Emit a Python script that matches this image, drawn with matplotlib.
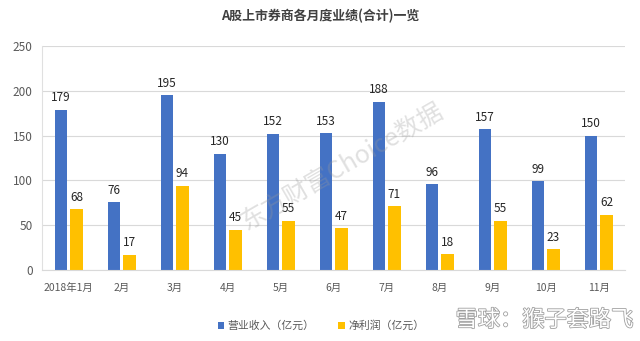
import matplotlib
matplotlib.use("Agg")
import matplotlib.pyplot as plt
import matplotlib.patheffects as pe
import numpy as np

plt.rcParams['font.family'] = ['Noto Sans CJK SC', 'DejaVu Sans']

months = ["2018年1月", "2月", "3月", "4月", "5月", "6月", "7月", "8月", "9月", "10月", "11月"]
revenue = [179, 76, 195, 130, 152, 153, 188, 96, 157, 99, 150]
profit = [68, 17, 94, 45, 55, 47, 71, 18, 55, 23, 62]

blue = "#4472C4"
yellow = "#FFC000"

fig = plt.figure(figsize=(6.4, 3.41), dpi=100)
ax = fig.add_axes([0.066, 0.208, 0.911, 0.657])

x = np.arange(len(months))
w = 0.235
off = 0.145
b1 = ax.bar(x - off, revenue, w, color=blue, label="营业收入（亿元）")
b2 = ax.bar(x + off, profit, w, color=yellow, label="净利润（亿元）")

for bars, vals in ((b1, revenue), (b2, profit)):
    for r, v in zip(bars, vals):
        ax.text(r.get_x() + r.get_width() / 2, v + 6, str(v), ha="center", va="bottom",
                fontsize=8.5, color="#262626")

ax.set_xlim(-0.5, len(months) - 0.5)
ax.set_ylim(0, 250)
ax.set_yticks(range(0, 251, 50))
ax.set_xticks(x)
ax.set_xticklabels(months, fontsize=7.5, color="#595959")
ax.tick_params(axis="y", labelsize=8.5, labelcolor="#595959", length=0, pad=7)
ax.tick_params(axis="x", length=0, pad=9)
ax.grid(axis="y", color="#D9D9D9", linewidth=0.8)
ax.set_axisbelow(True)
for s in ("top", "right"):
    ax.spines[s].set_visible(False)
ax.spines["left"].set_color("#E0E0E0")
ax.spines["bottom"].set_color("#D9D9D9")

fig.suptitle("A股上市券商各月度业绩(合计)一览", x=0.5, y=0.975, fontsize=9.3,
             fontweight="bold", color="#404040")

fig.legend(loc="lower left", bbox_to_anchor=(0.325, 0.0), ncol=2, frameon=False,
           fontsize=7.8, handlelength=0.6, handleheight=0.6, handletextpad=0.3,
           columnspacing=2.2, labelcolor="#595959")

# watermarks
fig.text(0.534, 0.51, "东方财富Choice数据", fontsize=18, color="#9a9a9a", alpha=0.3,
         rotation=30, ha="center", va="center")
fig.text(0.99, 0.062, "雪球：猴子套路飞", fontsize=16, color="white",
         ha="right", va="center",
         path_effects=[pe.withStroke(linewidth=1.2, foreground="#a0a0a0")])

fig.savefig("out.png", dpi=100)
